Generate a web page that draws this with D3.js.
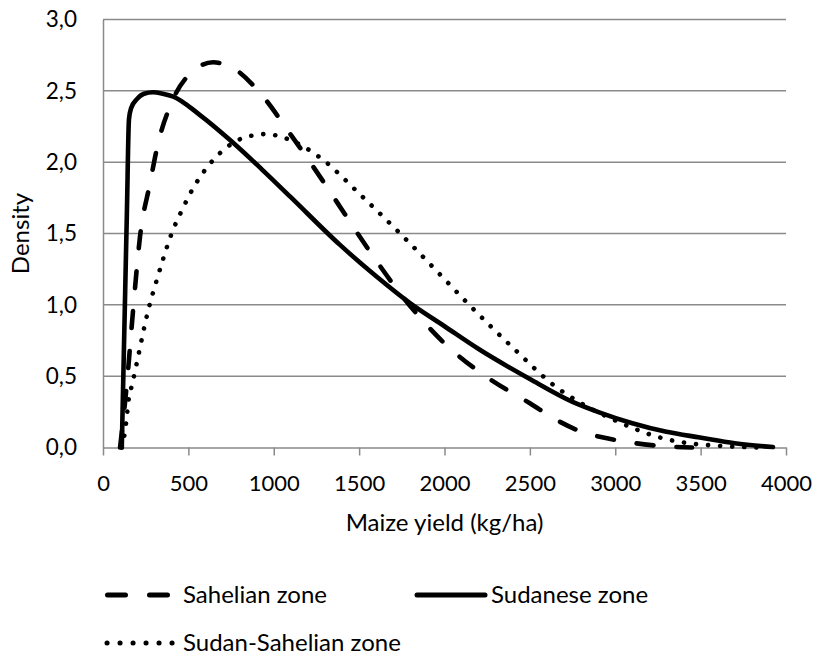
<!DOCTYPE html>
<html lang="en">
<head>
  <meta charset="UTF-8">
  <title>Maize yield density</title>
  <script src="https://d3js.org/d3.v7.min.js"></script>
  <style>
    body { margin: 0; background: #fff; }
    svg text { font-family: Lato, "Open Sans", sans-serif; fill: #000; }
    .grid line { stroke: #8a8a8a; stroke-width: 1.5; }
    .axis path, .axis line { stroke: #8a8a8a; stroke-width: 1.5; fill: none; }
    .curve { fill: none; stroke: #000; stroke-width: 4.6; stroke-linejoin: round; }
  </style>
</head>
<body>
  <div id="chart"></div>
  <script>
    // tick labels
    var xTicks = [0, 500, 1000, 1500, 2000, 2500, 3000, 3500, 4000];
    var yTicks = [0, 0.5, 1, 1.5, 2, 2.5, 3];

    // Sahelian zone (dashed)
    var sahelX = [100, 140, 176, 217, 275, 322, 392, 510, 645, 761, 937, 1095, 1230, 1370, 1480, 1600, 1740, 1850, 2000, 2240, 2500, 2676, 2793, 2930, 3040, 3170, 3290, 3450];
    var sahelY = [0, 0.45, 0.96, 1.48, 1.85, 2.13, 2.39, 2.62, 2.70, 2.66, 2.46, 2.20, 1.97, 1.72, 1.52, 1.31, 1.08, 0.92, 0.73, 0.5, 0.31, 0.18, 0.115, 0.07, 0.045, 0.022, 0.008, 0];

    // Sudanese zone (solid)
    var sudanX = [110, 120, 130, 140, 152, 165, 197, 240, 293, 350, 412, 568, 744, 930, 1095, 1388, 1600, 1800, 2000, 2200, 2500, 2750, 2910, 3100, 3300, 3496, 3700, 3924];
    var sudanY = [0, 0.55, 1.1, 1.65, 2.3, 2.38, 2.44, 2.48, 2.49, 2.48, 2.46, 2.33, 2.155, 1.95, 1.76, 1.42, 1.2, 1.01, 0.85, 0.69, 0.48, 0.32, 0.245, 0.17, 0.11, 0.07, 0.03, 0.003];

    // Sudan-Sahelian zone (dotted)
    var sudSahelX = [110, 117, 135, 152, 168, 275, 314, 357, 402, 461, 529, 607, 705, 822, 959, 1037, 1173, 1290, 1500, 1740, 2000, 2120, 2400, 2658, 2800, 2990, 3116, 3262, 3400, 3600, 3850];
    var sudSahelY = [0, 0.03, 0.17, 0.35, 0.43, 1.01, 1.17, 1.34, 1.50, 1.66, 1.82, 1.96, 2.085, 2.17, 2.197, 2.18, 2.11, 2.015, 1.78, 1.5, 1.18, 1.03, 0.70, 0.42, 0.31, 0.195, 0.13, 0.07, 0.035, 0.012, 0];

    var seriesNames = ["Sahelian zone", "Sudanese zone", "Sudan-Sahelian zone"];

    function draw() {
      var width = 816, height = 657;
      var margin = { left: 103, right: 786, top: 19.5, bottom: 447.5 };

      var svg = d3.select("#chart").append("svg")
        .attr("width", width)
        .attr("height", height);

      var x = d3.scaleLinear().domain([0, 4000]).range([margin.left, margin.right]);
      var y = d3.scaleLinear().domain([0, 3]).range([margin.bottom, margin.top]);

      var fmt = function (d) { return d3.format(".1f")(d).replace(".", ","); };

      // gridlines
      svg.append("g")
        .attr("class", "grid")
        .selectAll("line")
        .data(yTicks.slice(1))
        .enter().append("line")
        .attr("x1", margin.left).attr("x2", margin.right)
        .attr("y1", function (d) { return y(d); })
        .attr("y2", function (d) { return y(d); });

      // y axis, no tick marks
      var yAxis = svg.append("g")
        .attr("class", "axis")
        .attr("transform", "translate(" + margin.left + ",0)")
        .call(d3.axisLeft(y).tickValues(yTicks).tickFormat(fmt).tickSize(0).tickPadding(26));
      yAxis.selectAll("text").style("font-size", "22.5px");

      // x axis
      var xAxis = svg.append("g")
        .attr("class", "axis")
        .attr("transform", "translate(0," + margin.bottom + ")")
        .call(d3.axisBottom(x).tickValues(xTicks).tickFormat(d3.format("d")).tickSizeInner(8).tickSizeOuter(0).tickPadding(20));
      xAxis.selectAll("text").style("font-size", "22px");

      // axis titles
      svg.append("text")
        .attr("transform", "translate(21," + ((margin.top + margin.bottom) / 2) + ") rotate(-90)")
        .attr("text-anchor", "middle")
        .attr("dy", "0.35em")
        .style("font-size", "24px")
        .text("Density");

      svg.append("text")
        .attr("x", (margin.left + margin.right) / 2)
        .attr("y", 523)
        .attr("dy", "0.35em")
        .attr("text-anchor", "middle")
        .style("font-size", "24px")
        .text("Maize yield (kg/ha)");

      // curves
      var line = d3.line()
        .x(function (d) { return x(d[0]); })
        .y(function (d) { return y(d[1]); })
        .curve(d3.curveMonotoneX);

      var series = [
        { name: seriesNames[1], pts: d3.zip(sudanX, sudanY), dash: null },
        { name: seriesNames[0], pts: d3.zip(sahelX, sahelY), dash: "17 23" },
        { name: seriesNames[2], pts: d3.zip(sudSahelX, sudSahelY), dash: "0.1 12" }
      ];

      svg.selectAll(".curve")
        .data(series)
        .enter().append("path")
        .attr("class", "curve")
        .attr("d", function (d) { return line(d.pts); })
        .attr("stroke-dasharray", function (d) { return d.dash; })
        .attr("stroke-linecap", "round");

      // legend
      var legend = [
        { name: seriesNames[0], x1: 107.5, x2: 167.5, tx: 183, y: 595, dash: "18 24" },
        { name: seriesNames[1], x1: 417, x2: 485, tx: 491, y: 595, dash: null },
        { name: seriesNames[2], x1: 107, x2: 172.1, tx: 183, y: 643, dash: "0.1 12.9" }
      ];

      var lg = svg.selectAll(".legend")
        .data(legend)
        .enter().append("g")
        .attr("class", "legend");

      lg.append("line")
        .attr("x1", function (d) { return d.x1; })
        .attr("x2", function (d) { return d.x2; })
        .attr("y1", function (d) { return d.y; })
        .attr("y2", function (d) { return d.y; })
        .attr("stroke", "#000")
        .attr("stroke-width", 5)
        .attr("stroke-linecap", "round")
        .attr("stroke-dasharray", function (d) { return d.dash; });

      lg.append("text")
        .attr("x", function (d) { return d.tx; })
        .attr("y", function (d) { return d.y; })
        .attr("dy", "0.35em")
        .style("font-size", "24px")
        .text(function (d) { return d.name; });
    }

    draw();
  </script>
</body>
</html>
